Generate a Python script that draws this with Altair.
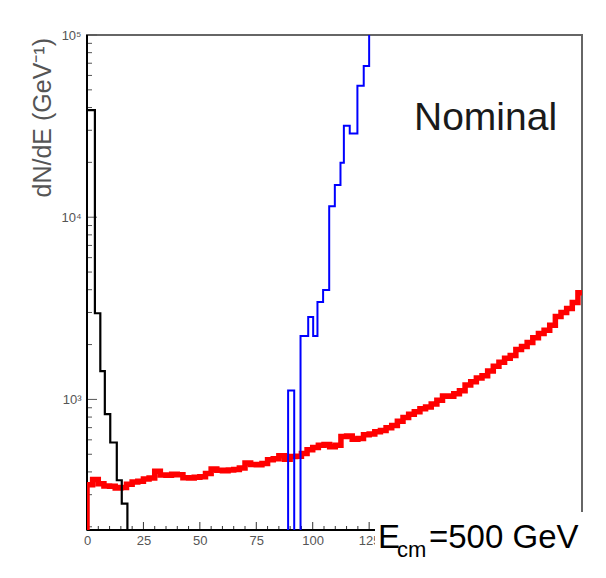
import altair as alt
import pandas as pd

# ---------------- data ----------------
# value used for "empty" bins (below the axis minimum, so the line drops off the frame)
EMPTY = 150

# red histogram (nominal spectrum), 2.5 GeV bins starting at 0 GeV
red_bin_width = 2.5
red_vals = [340, 363, 345, 335, 334, 326, 328, 342, 352, 356,
            366, 370, 404, 385, 383, 388, 386, 372, 370, 374,
            376, 392, 415, 408, 406, 410, 412, 420, 448, 440,
            438, 445, 466, 472, 490, 470, 486, 488, 505, 530,
            545, 560, 566, 550, 560, 625, 630, 605, 610, 640,
            645, 665, 675, 700, 720, 760, 795, 830, 855, 890,
            910, 945, 990, 1045, 1040, 1075, 1115, 1200, 1250, 1310,
            1350, 1430, 1520, 1600, 1680, 1740, 1880, 1950, 2050, 2180,
            2300, 2400, 2550, 2850, 3000, 3150, 3400, 3850]

# black histogram (low-energy spike)
black_edges = [0, 3.5, 5.9, 7.9, 10.3, 13.2, 15.4, 17.9, 20]
black_vals = [38700, 2970, 1430, 830, 580, 360, 268, EMPTY, EMPTY]

# blue histogram (high-energy peak)
blue_edges = [87.5, 89.1, 91.8, 94.6, 98.0, 100.2, 102.1, 104.6, 107.3,
              109.8, 112.3, 113.8, 116.4, 119.8, 122.6, 125.0, 128.0]
blue_vals = [EMPTY, 1120, EMPTY, 2230, 2830, 2230, 3430, 3980, 11500,
             15000, 19900, 31800, 28800, 52600, 67600, 300000, 300000]

# axes
x_domain = [0, 219.3]
y_domain = [192, 100000]
x_label_values = [0, 25, 50, 75, 100, 125]
x_major_ticks = [0, 25, 50, 75, 100, 125, 150, 175, 200]
x_minor_ticks = [5, 10, 15, 20, 30, 35, 40, 45, 55, 60, 65, 70, 80, 85, 90, 95,
                 105, 110, 115, 120, 130, 135, 140, 145, 155, 160, 165, 170,
                 180, 185, 190, 195, 205, 210, 215]
y_major_ticks = [1000, 10000, 100000]
y_minor_ticks = [200, 300, 400, 500, 600, 700, 800, 900,
                 2000, 3000, 4000, 5000, 6000, 7000, 8000, 9000,
                 20000, 30000, 40000, 50000, 60000, 70000, 80000, 90000]

# texts
y_title = "dN/dE (GeV\u207b\u00b9)"
label_nominal = "Nominal"
label_e = "E"
label_cm = "cm"
label_energy = "=500 GeV"

# ---------------- build ----------------
W, H = 495, 495

red_E = [0.0] + [i * red_bin_width for i in range(len(red_vals))] + [222.0]
red_N = [EMPTY] + red_vals + [red_vals[-1]]
red_df = pd.DataFrame({"E": red_E, "N": red_N, "i": range(len(red_E))})
black_df = pd.DataFrame({"E": black_edges, "N": black_vals, "i": range(len(black_edges))})
blue_df = pd.DataFrame({"E": blue_edges, "N": blue_vals, "i": range(len(blue_edges))})

xs = alt.Scale(domain=x_domain, nice=False, zero=False)
ys = alt.Scale(type="log", domain=y_domain, nice=False)

dummy = pd.DataFrame({"a": [0]})

x_axis = alt.Axis(values=x_label_values, domain=False, ticks=False, grid=False,
                  labelFontSize=13, labelColor="#555555", labelPadding=4,
                  labelFlush=False, labelFont="Liberation Sans", title=None)
y_axis = alt.Axis(values=y_major_ticks, domain=False, ticks=False, grid=False,
                  labelFontSize=13, labelColor="#555555", labelPadding=6,
                  labelFont="Liberation Sans", title=None,
                  labelExpr="datum.value == 1000 ? '10\u00b3' : datum.value == 10000 ? '10\u2074' : '10\u2075'")

X = lambda f: alt.X(f, scale=xs, axis=x_axis)
Y = lambda f: alt.Y(f, scale=ys, axis=y_axis)

def tick_rules(vals, axis, length):
    df = pd.DataFrame({"v": vals})
    if axis == "y":
        return alt.Chart(df).mark_rule(color="#555555", strokeWidth=1).encode(
            y=Y("v:Q"), x=alt.value(0), x2=alt.value(length))
    return alt.Chart(df).mark_rule(color="#333333", strokeWidth=1).encode(
        x=X("v:Q"), y=alt.value(H), y2=alt.value(H - length))

ticks = [tick_rules(y_minor_ticks, "y", 5), tick_rules(y_major_ticks, "y", 10),
         tick_rules(x_minor_ticks, "x", 4), tick_rules(x_major_ticks, "x", 8)]

left_axis = alt.Chart(dummy).mark_rule(color="black", strokeWidth=2).encode(
    x=alt.value(0), y=alt.value(0), y2=alt.value(H))
bottom_axis = alt.Chart(dummy).mark_rule(color="black", strokeWidth=2).encode(
    x=alt.value(0), x2=alt.value(W), y=alt.value(H))

def hist(df, color, width):
    return alt.Chart(df).mark_line(color=color, strokeWidth=width, interpolate="step-after",
                                   clip=True).encode(x=X("E:Q"), y=Y("N:Q"), order="i:Q")

red = hist(red_df, "#ff0000", 5.5)
black = hist(black_df, "black", 2.2)
blue = hist(blue_df, "#0000ff", 2)

cover = alt.Chart(dummy).mark_rect(color="white").encode(
    x=alt.value(288), x2=alt.value(515), y=alt.value(477), y2=alt.value(540))

t_title = alt.Chart(dummy).mark_text(text=y_title, angle=270, align="right", baseline="middle",
                                     font="Liberation Sans", fontSize=25, color="#555555").encode(
    x=alt.value(-44), y=alt.value(3))
t_nominal = alt.Chart(dummy).mark_text(text=label_nominal, align="left", baseline="alphabetic",
                                       font="Liberation Sans", fontSize=39, color="#1a1a1a").encode(
    x=alt.value(327), y=alt.value(95))
t_e = alt.Chart(dummy).mark_text(text=label_e, align="left", baseline="alphabetic",
                                 font="Liberation Sans", fontSize=33, color="black").encode(
    x=alt.value(291), y=alt.value(513))
t_cm = alt.Chart(dummy).mark_text(text=label_cm, align="left", baseline="alphabetic",
                                  font="Liberation Sans", fontSize=22, color="black").encode(
    x=alt.value(310), y=alt.value(522))
t_energy = alt.Chart(dummy).mark_text(text=label_energy, align="left", baseline="alphabetic",
                                      font="Liberation Sans", fontSize=33, color="black").encode(
    x=alt.value(342), y=alt.value(513))

chart = alt.layer(
    *ticks, left_axis, bottom_axis, red, black, blue, cover,
    t_title, t_nominal, t_e, t_cm, t_energy
).properties(
    width=W, height=H,
    autosize=alt.AutoSizeParams(type="none"),
    padding={"left": 79, "top": 27, "right": 16, "bottom": 32},
).configure_view(stroke="#666666", strokeWidth=2)

chart.save("out.html", embed_options={"renderer": "svg", "actions": False})
